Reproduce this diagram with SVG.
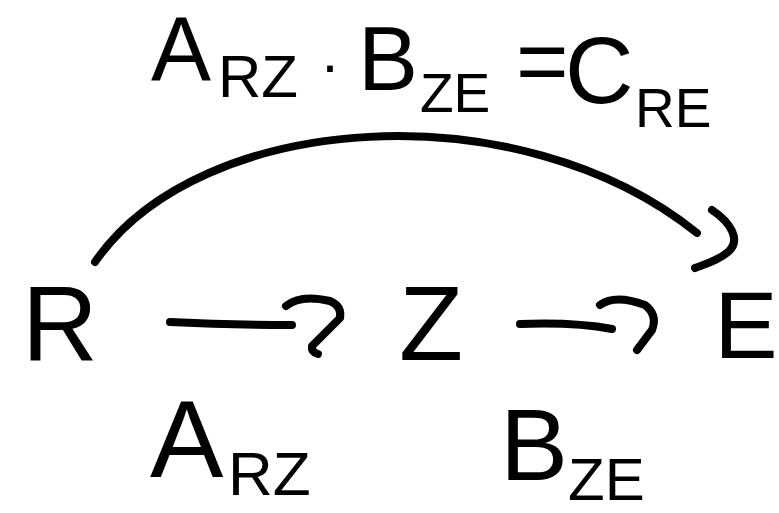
<svg xmlns="http://www.w3.org/2000/svg" width="779" height="513" viewBox="0 0 779 513">
<style>
.t{font-family:"Liberation Sans","DejaVu Sans",sans-serif;fill:#000}
.c{fill:none;stroke:#000;stroke-width:8;stroke-linecap:round;stroke-linejoin:round}
</style>
<rect width="779" height="513" fill="#fff"/>
<g id="connectors">
<path class="c" d="M170,322 Q230,325 292,325"/>
<path class="c" d="M286,306 Q300,294 330,301 Q342,306 340,318 L312,346 Q311,352 318,354"/>
<path class="c" d="M520,324 Q575,322 612,329"/>
<path class="c" d="M600,305 Q615,294 645,305 Q658,315 652,330 L637,350"/>
<path class="c" d="M95,262 C200,110 520,90 697,233"/>
<path class="c" d="M712,210 C730,222 742,240 728,252 C716,262 702,265 695,268"/>
</g>
<g id="node-R"><text class="t" x="22" y="360" font-size="105">R</text></g>
<g id="node-Z"><text class="t" x="431" y="360" font-size="105" text-anchor="middle">Z</text></g>
<g id="node-E"><text class="t" x="746" y="358" font-size="95" text-anchor="middle">E</text></g>
<g id="label-top">
<text class="t"><tspan x="151" y="80" font-size="90">A</tspan><tspan x="218" y="97" font-size="60">RZ</tspan><tspan x="330" y="85" font-size="60" text-anchor="middle">·</tspan><tspan x="358" y="90" font-size="90">B</tspan><tspan x="420" y="112" font-size="55">ZE</tspan><tspan x="516" y="92" font-size="90">=</tspan><tspan x="565" y="103" font-size="95">C</tspan><tspan x="635" y="127" font-size="55">RE</tspan></text>
</g>
<g id="label-ARZ">
<text class="t"><tspan x="150" y="477" font-size="110">A</tspan><tspan x="228" y="495" font-size="62">RZ</tspan></text>
</g>
<g id="label-BZE">
<text class="t"><tspan x="500" y="480" font-size="102">B</tspan><tspan x="568" y="500" font-size="60">ZE</tspan></text>
</g>
</svg>
